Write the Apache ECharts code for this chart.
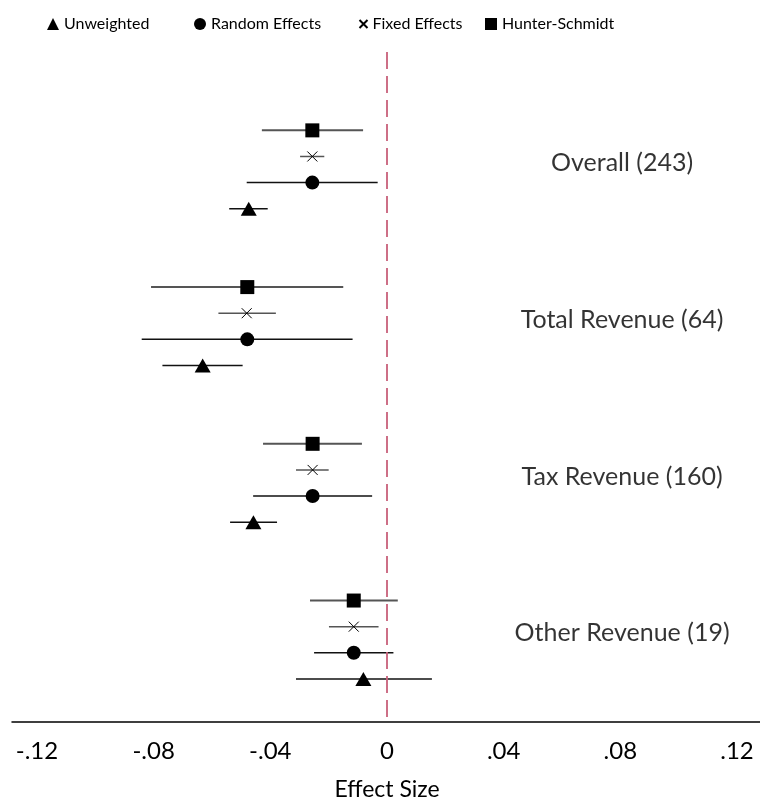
<!DOCTYPE html>
<html>
<head>
<meta charset="utf-8">
<script src="https://cdn.jsdelivr.net/npm/echarts@6/dist/echarts.min.js"></script>
<style>
  html, body { margin: 0; padding: 0; background: #fff; }
  #chart { width: 760px; height: 807px; }
</style>
</head>
<body>
<div id="chart"></div>
<script>
// Subgroup labels and their study counts
const groups = ['Overall (243)', 'Total Revenue (64)', 'Tax Revenue (160)', 'Other Revenue (19)'];

// Point estimates and 95% confidence bounds per estimator, one entry per subgroup
const hsEst = [-0.0256, -0.0479, -0.0255, -0.0114];
const hsLo  = [-0.0429, -0.0809, -0.0425, -0.0264];
const hsHi  = [-0.0082, -0.0150, -0.0086,  0.0037];

const feEst = [-0.0256, -0.0481, -0.0255, -0.0114];
const feLo  = [-0.0298, -0.0578, -0.0312, -0.0199];
const feHi  = [-0.0215, -0.0381, -0.0200, -0.0029];

const reEst = [-0.0256, -0.0479, -0.0255, -0.0114];
const reLo  = [-0.0481, -0.0841, -0.0459, -0.0250];
const reHi  = [-0.0032, -0.0118, -0.0051,  0.0022];

const uwEst = [-0.0474, -0.0632, -0.0458, -0.0081];
const uwLo  = [-0.0541, -0.0770, -0.0538, -0.0312];
const uwHi  = [-0.0409, -0.0495, -0.0377,  0.0154];

// Row layout: each subgroup occupies four rows, groups separated by two empty rows
const groupBase = [0, 6, 12, 18];
const rowOf = { hs: 0, fe: 1, re: 2, uw: 3 };

const FONT = 'Lato, "Open Sans", sans-serif';
const CROSS = 'path://M0,0L10,10M10,0L0,10';

function pointData(est, key) {
  return est.map((v, i) => [v, groupBase[i] + rowOf[key]]);
}
function barData(lo, hi, key) {
  return lo.map((l, i) => [groupBase[i] + rowOf[key], l, hi[i]]);
}
function ciSeries(name, lo, hi, key, color, width) {
  return {
    type: 'custom',
    name: name,
    xAxisIndex: 0, yAxisIndex: 0,
    silent: true,
    z: 2,
    encode: { x: [1, 2], y: 0 },
    data: barData(lo, hi, key),
    renderItem: function (params, api) {
      const a = api.coord([api.value(1), api.value(0)]);
      const b = api.coord([api.value(2), api.value(0)]);
      return {
        type: 'line',
        shape: { x1: a[0], y1: a[1], x2: b[0], y2: b[1] },
        style: { stroke: color, lineWidth: width }
      };
    }
  };
}

function tickText(v) {
  const r = Math.round(v * 100) / 100;
  if (r === 0) return '0';
  return String(r).replace('0.', '.');
}

function legendItem(name, left, size) {
  return {
    top: 11, left: left,
    itemWidth: size, itemHeight: size,
    textStyle: { fontFamily: FONT, fontSize: 16, color: '#000' },
    data: [name]
  };
}

const chart = echarts.init(document.getElementById('chart'));
const yMin = -3, yMax = 22.65;

chart.setOption({
  animation: false,
  backgroundColor: '#fff',
  legend: [
    legendItem('Unweighted', 42, 12),
    legendItem('Random Effects', 189, 12),
    legendItem('Fixed Effects', 352, 8),
    legendItem('Hunter-Schmidt', 480, 12)
  ],
  grid: [
    { left: 37, right: 23, top: 52, bottom: 85 },
    { left: 12, right: 0, top: 52, bottom: 85 }
  ],
  xAxis: [
    {
      type: 'value', gridIndex: 0,
      min: -0.12, max: 0.12, interval: 0.04,
      splitLine: { show: false },
      axisLine: { show: false },
      axisTick: { show: false },
      axisLabel: {
        margin: 17, fontFamily: FONT, fontSize: 24, color: '#000',
        formatter: tickText
      },
      name: 'Effect Size', nameLocation: 'middle', nameGap: 56,
      nameTextStyle: { fontFamily: FONT, fontSize: 23, color: '#000' }
    },
    {
      type: 'value', gridIndex: 1,
      min: 0, max: 1,
      splitLine: { show: false },
      axisTick: { show: false },
      axisLabel: { show: false },
      axisLine: { show: true, onZero: false, lineStyle: { color: '#000', width: 1.5 } }
    }
  ],
  yAxis: [
    { type: 'value', gridIndex: 0, inverse: true, min: yMin, max: yMax, show: false },
    { type: 'value', gridIndex: 1, min: 0, max: 1, show: false }
  ],
  series: [
    ciSeries('ci-hs', hsLo, hsHi, 'hs', '#555', 2),
    ciSeries('ci-fe', feLo, feHi, 'fe', '#555', 1.5),
    ciSeries('ci-re', reLo, reHi, 're', '#111', 1.5),
    ciSeries('ci-uw', uwLo, uwHi, 'uw', '#111', 1.5),
    {
      type: 'scatter', name: 'Hunter-Schmidt', z: 3,
      symbol: 'rect', symbolSize: 14,
      itemStyle: { color: '#000', opacity: 1 },
      data: pointData(hsEst, 'hs'),
      markLine: {
        silent: true, symbol: 'none', label: { show: false },
        lineStyle: { color: '#c8607a', width: 1.8, type: [17, 7] },
        data: [{ xAxis: 0 }]
      }
    },
    {
      type: 'scatter', name: 'Fixed Effects', z: 3,
      symbol: CROSS, symbolSize: 10,
      itemStyle: { color: 'none', borderColor: '#000', borderWidth: 1, opacity: 1 },
      data: pointData(feEst, 'fe')
    },
    {
      type: 'scatter', name: 'Random Effects', z: 3,
      symbol: 'circle', symbolSize: 14,
      itemStyle: { color: '#000', opacity: 1 },
      data: pointData(reEst, 're')
    },
    {
      type: 'scatter', name: 'Unweighted', z: 3,
      symbol: 'triangle', symbolSize: [16, 14],
      itemStyle: { color: '#000', opacity: 1 },
      data: pointData(uwEst, 'uw')
    },
    {
      type: 'scatter', name: 'group-labels', silent: true,
      symbolSize: 0,
      data: groups.map((g, i) => ({ value: [0.0806, groupBase[i] + 1.25], name: g })),
      label: {
        show: true, position: 'inside',
        formatter: p => p.name,
        fontFamily: FONT, fontSize: 25, color: '#000'
      }
    }
  ]
});
</script>
</body>
</html>
